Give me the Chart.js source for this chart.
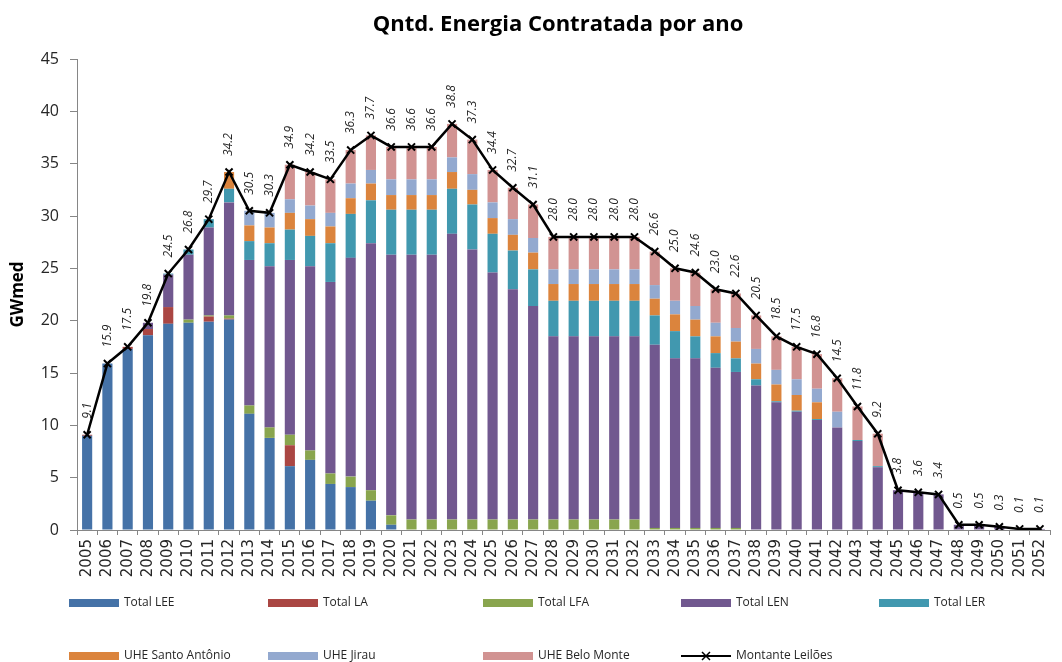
<!DOCTYPE html>
<html>
<head>
<meta charset="utf-8">
<script src="https://cdn.jsdelivr.net/npm/chart.js@4"></script>
<style>
  html, body { margin: 0; padding: 0; background: #fff; }
  #wrap { width: 1062px; height: 662px; position: relative; }
</style>
</head>
<body>
<div id="wrap"><canvas id="chart"></canvas></div>
<script>
const UI_FONT = "Open Sans, DejaVu Sans, sans-serif";

const years = [
  "2005", "2006", "2007", "2008", "2009", "2010", "2011", "2012", "2013", "2014",
  "2015", "2016", "2017", "2018", "2019", "2020", "2021", "2022", "2023", "2024",
  "2025", "2026", "2027", "2028", "2029", "2030", "2031", "2032", "2033", "2034",
  "2035", "2036", "2037", "2038", "2039", "2040", "2041", "2042", "2043", "2044",
  "2045", "2046", "2047", "2048", "2049", "2050", "2051", "2052"
];

const totalLEE = [
  9.0, 15.9, 17.3, 18.6, 19.7, 19.8, 19.9, 20.1, 11.1, 8.8,
  6.1, 6.7, 4.4, 4.1, 2.8, 0.5, 0, 0, 0, 0,
  0, 0, 0, 0, 0, 0, 0, 0, 0, 0,
  0, 0, 0, 0, 0, 0, 0, 0, 0, 0,
  0, 0, 0, 0, 0, 0, 0, 0
];
const totalLA = [
  0.1, 0, 0.2, 0.6, 1.6, 0, 0.5, 0.1, 0, 0,
  2.0, 0, 0, 0, 0, 0, 0, 0, 0, 0,
  0, 0, 0, 0, 0, 0, 0, 0, 0, 0,
  0, 0, 0, 0, 0, 0, 0, 0, 0, 0,
  0, 0, 0, 0, 0, 0, 0, 0
];
const totalLFA = [
  0, 0, 0, 0, 0, 0.3, 0.1, 0.3, 0.8, 1.0,
  1.0, 0.9, 1.0, 1.0, 1.0, 0.9, 1.0, 1.0, 1.0, 1.0,
  1.0, 1.0, 1.0, 1.0, 1.0, 1.0, 1.0, 1.0, 0.2, 0.2,
  0.2, 0.2, 0.2, 0, 0, 0, 0, 0, 0, 0,
  0, 0, 0, 0, 0, 0, 0, 0
];
const totalLEN = [
  0, 0, 0, 0.6, 3.1, 6.2, 8.4, 10.8, 13.9, 15.4,
  16.7, 17.6, 18.3, 20.9, 23.6, 24.9, 25.3, 25.3, 27.3, 25.8,
  23.6, 22.0, 20.4, 17.5, 17.5, 17.5, 17.5, 17.5, 17.5, 16.2,
  16.2, 15.3, 14.9, 13.8, 12.2, 11.3, 10.5, 9.8, 8.5, 6.0,
  3.8, 3.6, 3.4, 0.5, 0.5, 0.3, 0.1, 0.1
];
const totalLER = [
  0, 0, 0, 0, 0.1, 0.5, 0.8, 1.3, 1.8, 2.2,
  2.9, 2.9, 3.7, 4.2, 4.1, 4.3, 4.3, 4.3, 4.3, 4.3,
  3.7, 3.7, 3.5, 3.4, 3.4, 3.4, 3.4, 3.4, 2.8, 2.6,
  2.1, 1.4, 1.3, 0.6, 0.1, 0.1, 0.1, 0, 0.1, 0.1,
  0, 0, 0, 0, 0, 0, 0, 0
];
const santoAntonio = [
  0, 0, 0, 0, 0, 0, 0, 1.6, 1.5, 1.5,
  1.6, 1.6, 1.6, 1.5, 1.6, 1.4, 1.4, 1.4, 1.6, 1.4,
  1.5, 1.5, 1.6, 1.6, 1.6, 1.6, 1.6, 1.6, 1.6, 1.6,
  1.6, 1.6, 1.6, 1.5, 1.6, 1.5, 1.6, 0, 0, 0,
  0, 0, 0, 0, 0, 0, 0, 0
];
const jirau = [
  0, 0, 0, 0, 0, 0, 0, 0, 1.4, 1.4,
  1.3, 1.3, 1.3, 1.4, 1.3, 1.5, 1.5, 1.5, 1.4, 1.5,
  1.5, 1.5, 1.4, 1.4, 1.4, 1.4, 1.4, 1.4, 1.3, 1.3,
  1.3, 1.3, 1.3, 1.4, 1.4, 1.5, 1.3, 1.5, 0, 0,
  0, 0, 0, 0, 0, 0, 0, 0
];
const beloMonte = [
  0, 0, 0, 0, 0, 0, 0, 0, 0, 0,
  3.3, 3.2, 3.2, 3.2, 3.3, 3.1, 3.1, 3.1, 3.2, 3.3,
  3.1, 3.0, 3.2, 3.1, 3.1, 3.1, 3.1, 3.1, 3.2, 3.1,
  3.2, 3.2, 3.3, 3.2, 3.2, 3.1, 3.3, 3.2, 3.2, 3.1,
  0, 0, 0, 0, 0, 0, 0, 0
];
const montante = [
  9.1, 15.9, 17.5, 19.8, 24.5, 26.8, 29.7, 34.2, 30.5, 30.3,
  34.9, 34.2, 33.5, 36.3, 37.7, 36.6, 36.6, 36.6, 38.8, 37.3,
  34.4, 32.7, 31.1, 28.0, 28.0, 28.0, 28.0, 28.0, 26.6, 25.0,
  24.6, 23.0, 22.6, 20.5, 18.5, 17.5, 16.8, 14.5, 11.8, 9.2,
  3.8, 3.6, 3.4, 0.5, 0.5, 0.3, 0.1, 0.1
];

function barSet(label, data, color) {
  return {
    label, data,
    backgroundColor: color,
    borderWidth: 0,
    barPercentage: 0.5,
    categoryPercentage: 1.0,
    stack: "bars",
    order: 1
  };
}

// title drawn by hand so it can sit where the original puts it
const titlePlugin = {
  id: "titleText",
  afterDraw(chart) {
    const ctx = chart.ctx;
    ctx.save();
    ctx.font = "bold 22px " + UI_FONT;
    ctx.fillStyle = "#000";
    ctx.textAlign = "center";
    ctx.textBaseline = "middle";
    ctx.fillText("Qntd. Energia Contratada por ano", 558, 25);
    ctx.restore();
  }
};

// rotated value labels over the line points
const valueLabels = {
  id: "valueLabels",
  afterDatasetsDraw(chart) {
    const ctx = chart.ctx;
    chart.data.datasets.forEach((ds, i) => {
      if (ds.type !== "line") return;
      const meta = chart.getDatasetMeta(i);
      meta.data.forEach((pt, j) => {
        ctx.save();
        ctx.translate(pt.x, pt.y - 16);
        ctx.rotate(-Math.PI / 2);
        ctx.font = "italic 12px " + UI_FONT;
        ctx.fillStyle = "#262626";
        ctx.textAlign = "left";
        ctx.textBaseline = "middle";
        ctx.fillText(ds.data[j].toFixed(1), 0, 0);
        ctx.restore();
      });
    });
  }
};

// two-row legend laid out in fixed columns like the original
const gridLegend = {
  id: "gridLegend",
  afterDraw(chart) {
    const ctx = chart.ctx;
    const cols = [69, 268, 483, 681, 879];
    const rows = [603, 656];
    ctx.save();
    ctx.font = "12px " + UI_FONT;
    ctx.textBaseline = "middle";
    ctx.textAlign = "left";
    chart.data.datasets.forEach((ds, i) => {
      const x = cols[i % 5];
      const y = rows[Math.floor(i / 5)];
      if (ds.type === "line") {
        ctx.strokeStyle = "#000";
        ctx.lineWidth = 2;
        ctx.beginPath();
        ctx.moveTo(x, y);
        ctx.lineTo(x + 50, y);
        ctx.stroke();
        ctx.lineWidth = 1.5;
        ctx.beginPath();
        ctx.moveTo(x + 21, y - 4);
        ctx.lineTo(x + 29, y + 4);
        ctx.moveTo(x + 29, y - 4);
        ctx.lineTo(x + 21, y + 4);
        ctx.stroke();
      } else {
        ctx.fillStyle = ds.backgroundColor;
        ctx.fillRect(x, y - 4, 50, 8);
      }
      ctx.fillStyle = "#262626";
      ctx.fillText(ds.label, x + 55, y);
    });
    ctx.restore();
  }
};

const ctx = document.getElementById("chart").getContext("2d");
new Chart(ctx, {
  type: "bar",
  data: {
    labels: years,
    datasets: [
      barSet("Total LEE", totalLEE, "#4572A7"),
      barSet("Total LA", totalLA, "#AA4643"),
      barSet("Total LFA", totalLFA, "#89A54E"),
      barSet("Total LEN", totalLEN, "#71588F"),
      barSet("Total LER", totalLER, "#4198AF"),
      barSet("UHE Santo Antônio", santoAntonio, "#DB843D"),
      barSet("UHE Jirau", jirau, "#93A9CF"),
      barSet("UHE Belo Monte", beloMonte, "#D19392"),
      {
        type: "line",
        label: "Montante Leilões",
        data: montante,
        borderColor: "#000",
        backgroundColor: "#000",
        borderWidth: 2.5,
        tension: 0,
        pointStyle: "crossRot",
        pointRadius: 5,
        pointBorderWidth: 2,
        pointBorderColor: "#000",
        stack: "line",
        order: 0
      }
    ]
  },
  options: {
    responsive: true,
    maintainAspectRatio: false,
    animation: false,
    layout: { padding: { top: 59, left: 0, right: 0, bottom: 82 } },
    plugins: {
      legend: { display: false },
      tooltip: { enabled: false }
    },
    scales: {
      x: {
        stacked: true,
        afterFit(scale) { scale.height = 50; },
        grid: {
          drawOnChartArea: false,
          color: "#868686",
          tickLength: 5
        },
        border: { color: "#868686" },
        ticks: {
          autoSkip: false,
          minRotation: 90,
          maxRotation: 90,
          padding: 4,
          color: "#262626",
          font: { family: "DejaVu Sans", size: 15 }
        }
      },
      y: {
        stacked: true,
        min: 0,
        max: 45,
        afterFit(scale) { scale.width = 77; },
        grid: {
          drawOnChartArea: false,
          color: "#868686",
          tickLength: 7
        },
        border: { color: "#868686" },
        ticks: {
          stepSize: 5,
          padding: 11,
          color: "#262626",
          font: { family: UI_FONT, size: 16 }
        },
        title: {
          display: true,
          text: "GWmed",
          color: "#000",
          padding: { top: 8, bottom: 0 },
          font: { family: UI_FONT, size: 17, weight: "bold" }
        }
      }
    }
  },
  plugins: [titlePlugin, valueLabels, gridLegend]
});
</script>
</body>
</html>
